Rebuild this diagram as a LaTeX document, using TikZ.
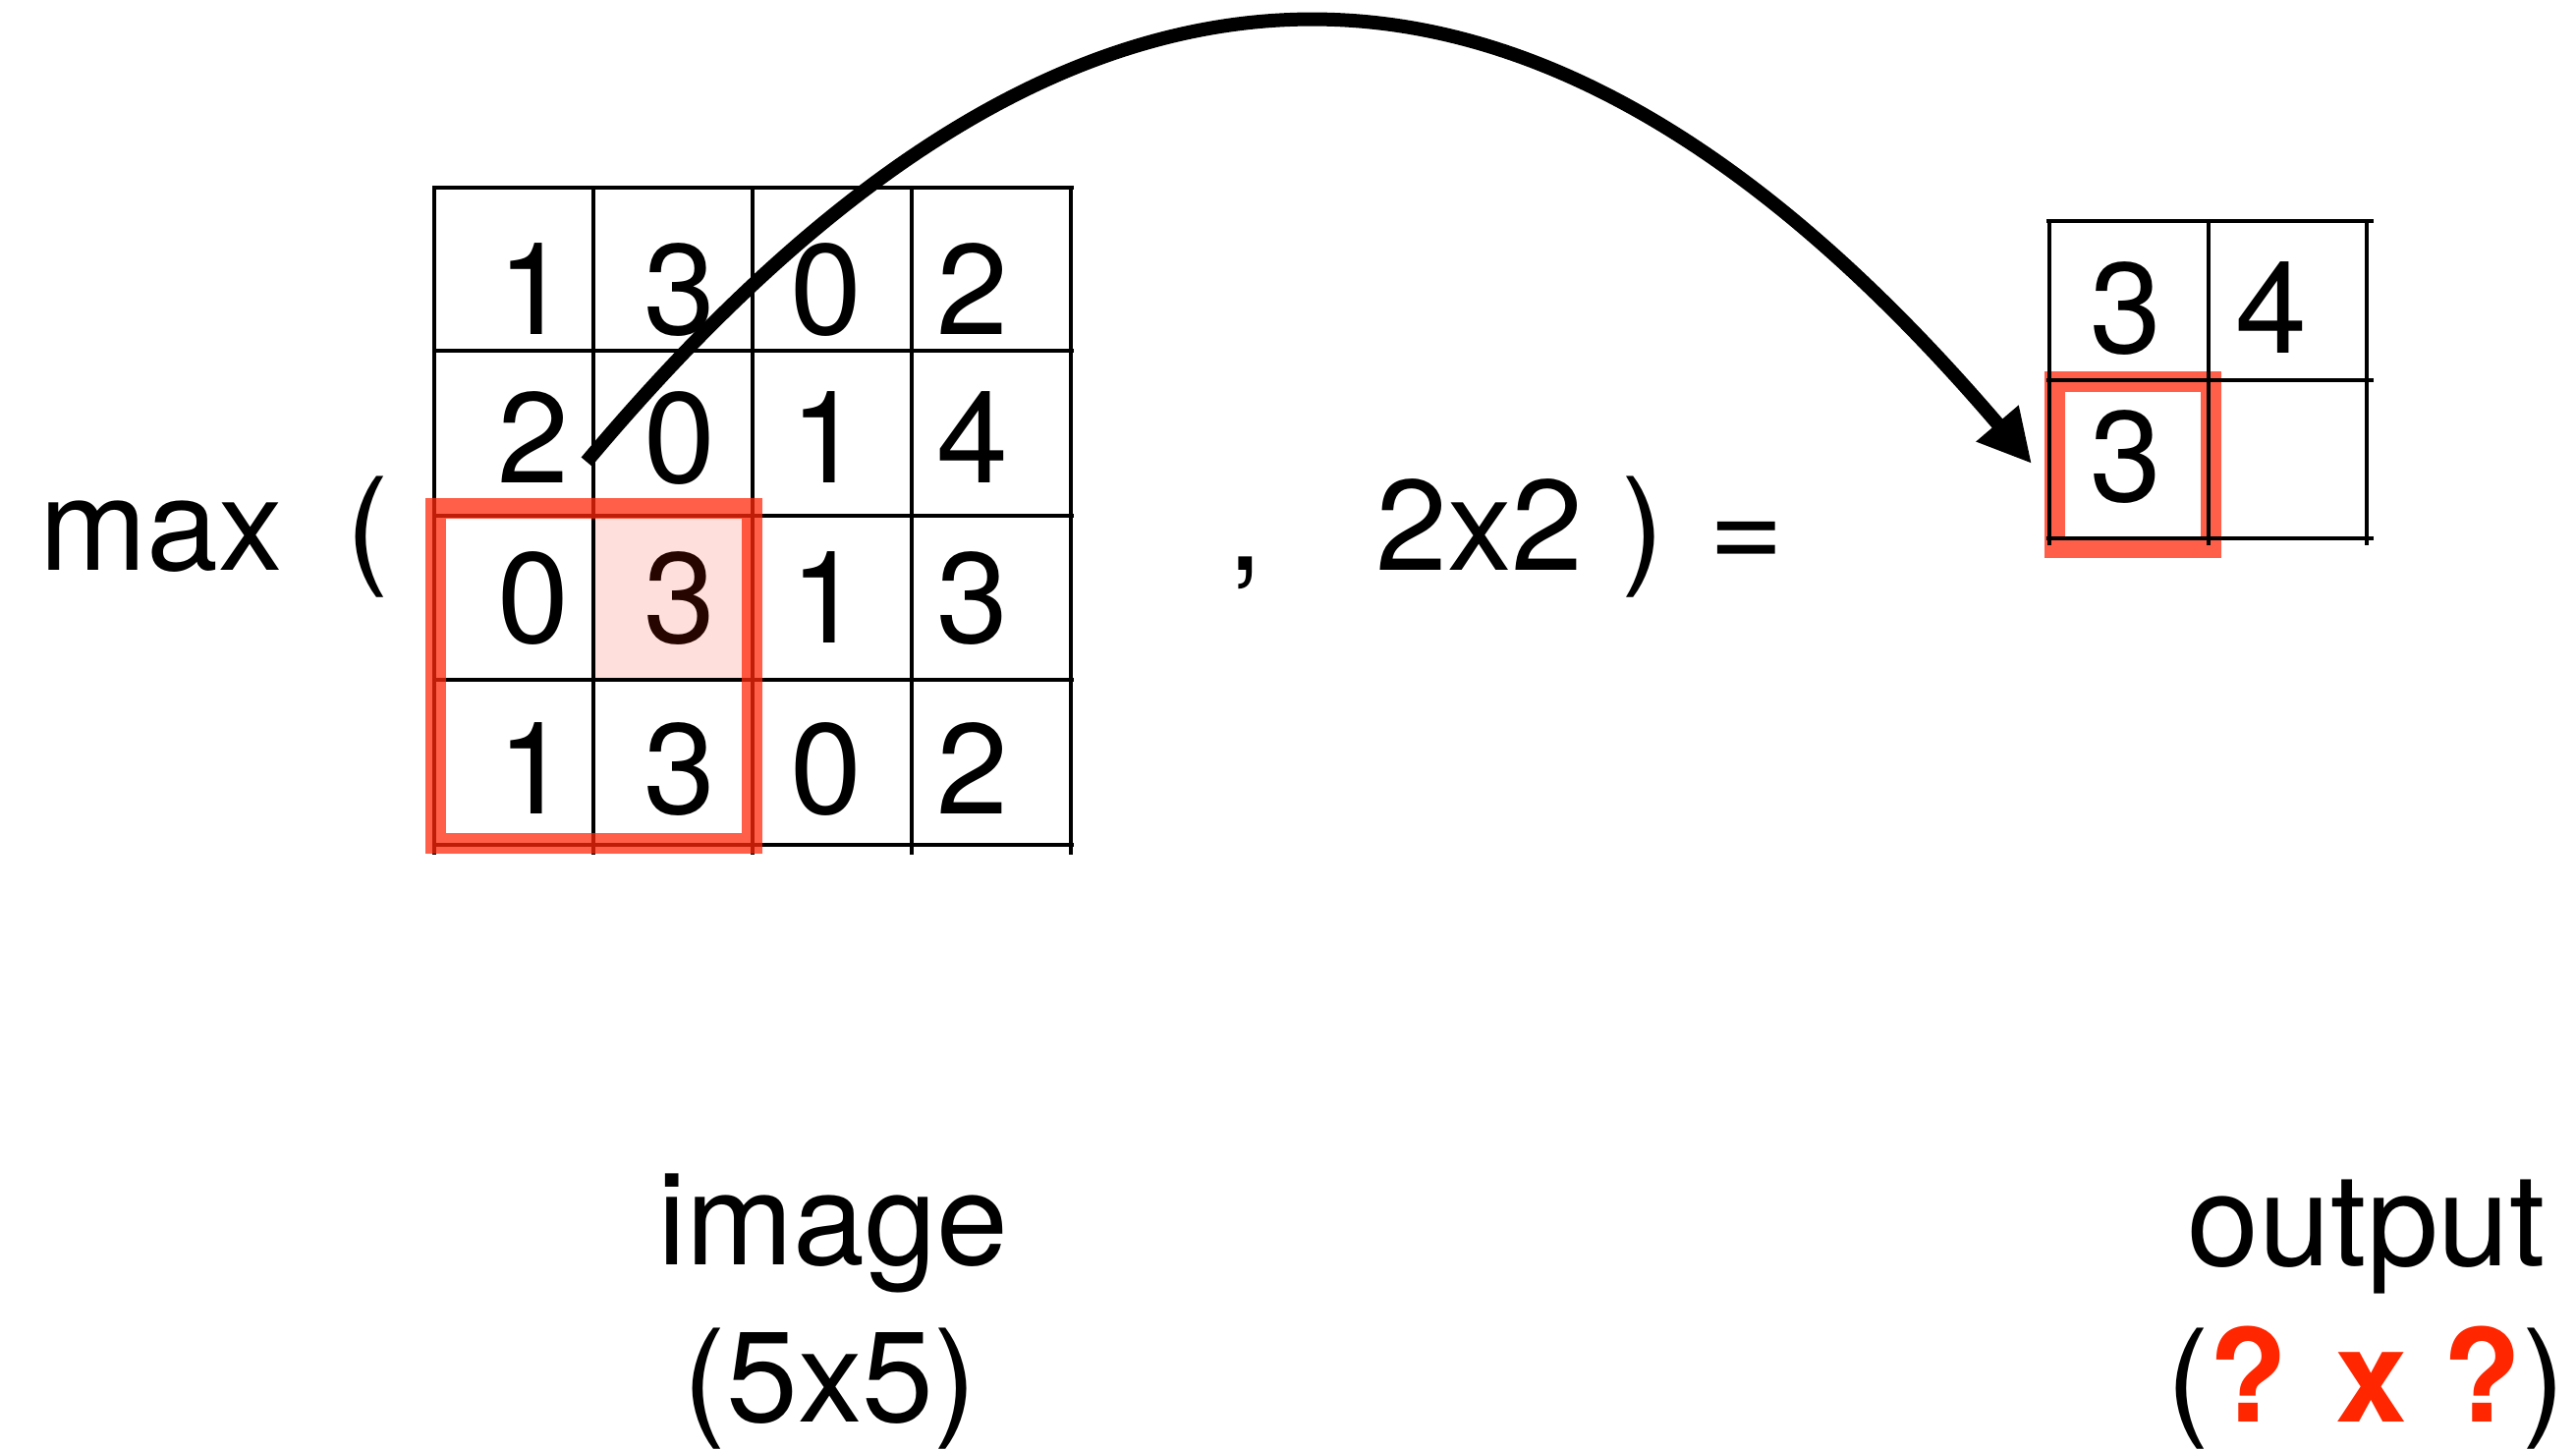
\documentclass[tikz,border=0pt]{standalone}
\usepackage{fontspec}
\setmainfont{TeX Gyre Heros}
\usepackage{xcolor}
\usetikzlibrary{arrows.meta}

\definecolor{poolred}{RGB}{255,40,11}
\definecolor{qred}{RGB}{255,38,0}

\begin{document}
\begin{tikzpicture}[
  every node/.style={font=\fontsize{37.3}{44}\selectfont, inner sep=0pt},
  lbl/.style={anchor=base},
  gridline/.style={line width=0.045cm},
  poolbox/.style={draw=poolred, draw opacity=0.75, line width=0.21cm},
  hilite/.style={fill=poolred, fill opacity=0.15},
  arrowline/.style={-{Triangle[length=0.54cm, width=0.53cm]}, line width=0.14cm},
]
  \useasboundingbox (0,0) rectangle (26.22,-14.75);

  % input grid
  \foreach \y in {1.91,3.57,5.25,6.92,8.60}
    \draw[gridline] (4.40,-\y) -- (10.93,-\y);
  \foreach \x in {4.42,6.04,7.66,9.28,10.90}
    \draw[gridline] (\x,-1.89) -- (\x,-8.70);

  \foreach \row/\yb [count=\r] in {{1,3,0,2}/3.40, {2,0,1,4}/4.91,
                                   {0,3,1,3}/6.54, {1,3,0,2}/8.28} {
    \foreach \v [count=\c] in \row {
      \pgfmathsetmacro\xd{5.43+1.49*(\c-1)}
      \node[lbl] (in\r\c) at (\xd,-\yb) {\v};
    }
  }

  % pooling window
  \fill[hilite] (6.06,-5.27) rectangle (7.64,-6.90);
  \draw[poolbox] (4.43,-5.17) rectangle (7.65,-8.58);

  % expression
  \node[lbl] (max) at (1.64,-5.80) {max};
  \node[lbl] (lpar) at (3.74,-5.80) {(};
  \node[lbl] (comma) at (12.68,-5.80) {,};
  \node[lbl] (ksize) at (15.06,-5.80) {2x2};
  \node[lbl] (rpar) at (16.72,-5.80) {)};
  \node[lbl] (eq) at (17.78,-5.80) {=};

  % output grid
  \draw[poolbox] (20.91,-3.88) rectangle (22.50,-5.57);
  \foreach \y in {2.25,3.87,5.48}
    \draw[gridline] (20.83,-\y) -- (24.16,-\y);
  \foreach \x in {20.86,22.48,24.09}
    \draw[gridline] (\x,-2.23) -- (\x,-5.55);

  \node[lbl] (out11) at (21.64,-3.59) {3};
  \node[lbl] (out12) at (23.12,-3.59) {4};
  \node[lbl] (out21) at (21.64,-5.10) {3};

  % labels
  \node[lbl] (imglabel) at (8.48,-12.87) {image};
  \node[lbl] (imgsize) at (8.45,-14.47) {(5x5)};
  \node[lbl] (outlabel) at (24.09,-12.88) {output};
  \node[lbl] (outsize) at (24.08,-14.47) {(\textbf{\textcolor{qred}{? x ?}})};

  % arrow
  \coordinate (arrstart) at (5.97,-4.70);
  \coordinate (arrend) at (20.68,-4.72);
  \draw[arrowline] (arrstart) to[out=50, in=130.5, looseness=1.36] (arrend);
\end{tikzpicture}
\end{document}
